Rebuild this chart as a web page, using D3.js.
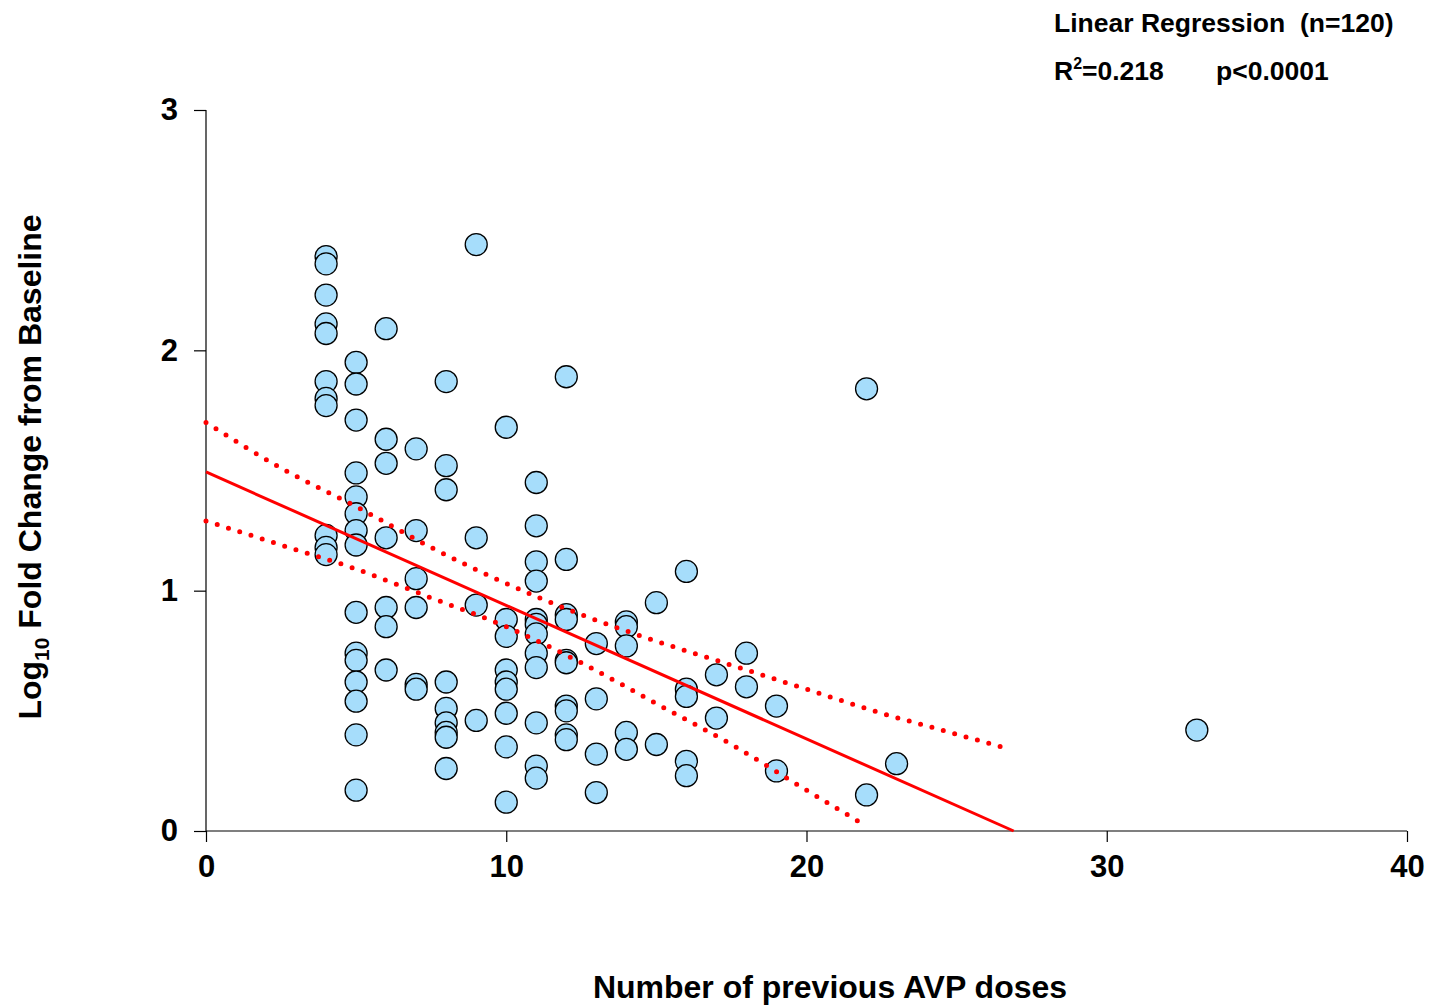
<!DOCTYPE html>
<html>
<head>
<meta charset="utf-8">
<script src="https://cdn.jsdelivr.net/npm/d3@7"></script>
<style>
  body { margin: 0; background: #fff; }
  text { font-family: "Liberation Sans", Arial, sans-serif; font-weight: bold; fill: #000; }
</style>
</head>
<body>
<div class="canvas"></div>
<script>
// doses (x) and log10 fold change (y)
const doses = [
  4,4,4,4,4,4,4,4,4,4,4,
  5,5,5,5,5,5,5,5,5,5,5,5,5,5,5,
  6,6,6,6,6,6,6,
  7,7,7,7,7,7,
  8,8,8,8,8,8,8,8,8,
  9,9,9,9,
  10,10,10,10,10,10,10,10,10,
  11,11,11,11,11,11,11,11,11,11,11,11,
  12,12,12,12,12,12,12,12,12,12,
  13,13,13,13,
  14,14,14,14,14,
  15,15,
  16,16,16,16,16,
  17,17,
  18,18,
  19,19,
  22,22,
  23,
  33
];
const foldChange = [
  2.39,2.36,2.23,2.11,2.07,1.87,1.80,1.77,1.23,1.18,1.15,
  1.95,1.86,1.71,1.49,1.39,1.32,1.25,1.19,0.91,0.74,0.71,0.62,0.54,0.40,0.17,
  2.09,1.63,1.53,1.22,0.93,0.85,0.67,
  1.59,1.25,1.05,0.93,0.61,0.59,
  1.87,1.52,1.42,0.62,0.51,0.45,0.41,0.39,0.26,
  2.44,1.22,0.94,0.46,
  1.68,0.88,0.81,0.67,0.62,0.59,0.49,0.35,0.12,
  1.45,1.27,1.12,1.04,0.88,0.86,0.82,0.74,0.68,0.45,0.27,0.22,
  1.89,1.13,0.90,0.88,0.71,0.70,0.52,0.50,0.40,0.38,
  0.78,0.55,0.32,0.16,
  0.87,0.85,0.77,0.41,0.34,
  0.95,0.36,
  1.08,0.59,0.56,0.29,0.23,
  0.65,0.47,
  0.74,0.60,
  0.52,0.25,
  1.84,0.15,
  0.28,
  0.42
];

// regression fit and 95% confidence band as drawn
const fitX = [0, 26.9];
const fitY = [1.494, 0];
const upperX = [0, 2.5, 5, 7.5, 10, 12.5, 15, 17.5, 20, 22.5, 24.5, 26.5];
const upperY = [1.70, 1.51, 1.35, 1.18, 1.03, 0.90, 0.79, 0.69, 0.59, 0.49, 0.42, 0.35];
const lowerX = [0, 2.5, 5, 7.5, 10, 12.5, 15, 17.5, 20, 22];
const lowerY = [1.29, 1.19, 1.09, 0.97, 0.85, 0.70, 0.53, 0.36, 0.17, 0.02];

const xTicks = [0, 10, 20, 30, 40];
const yTicks = [0, 1, 2, 3];

const width = 1435, height = 1008;
const margin = { left: 206, right: 28, top: 110, bottom: 177 };

const svg = d3.select('.canvas')
  .append('svg')
  .attr('width', width)
  .attr('height', height);

const x = d3.scaleLinear().domain([0, 40]).range([margin.left, width - margin.right]);
const y = d3.scaleLinear().domain([0, 3]).range([height - margin.bottom, margin.top]);

// axes
const xAxis = svg.append('g')
  .attr('transform', `translate(0,${y(0)})`)
  .call(d3.axisBottom(x).tickValues(xTicks).tickSize(11).tickPadding(13).tickFormat(d3.format('d')));
const yAxis = svg.append('g')
  .attr('transform', `translate(${x(0)},0)`)
  .call(d3.axisLeft(y).tickValues(yTicks).tickSize(12).tickPadding(16).tickFormat(d3.format('d')));

[xAxis, yAxis].forEach(a => {
  a.select('.domain').attr('stroke', '#000').attr('stroke-width', 1.2);
  a.selectAll('.tick line').attr('stroke', '#000').attr('stroke-width', 1.2);
  a.selectAll('.tick text')
    .style('font-size', '31px')
    .style('font-family', '"Liberation Sans", Arial, sans-serif')
    .style('font-weight', 'bold');
});
xAxis.select('.domain').attr('d', `M${x(0)},0H${x(40)}`);
yAxis.select('.domain').attr('d', `M0,${y(0)}V${y(3)}`);

// points
const pts = doses.map((d, i) => ({ x: d, y: foldChange[i] }));
svg.append('g')
  .selectAll('circle')
  .data(pts)
  .join('circle')
    .attr('cx', d => x(d.x))
    .attr('cy', d => y(d.y))
    .attr('r', 11)
    .attr('fill', '#a6ddfb')
    .attr('stroke', '#000')
    .attr('stroke-width', 1.3);

// regression line and confidence band
const line = d3.line().x(d => x(d[0])).y(d => y(d[1]));
svg.append('path')
  .attr('d', line(fitX.map((v, i) => [v, fitY[i]])))
  .attr('fill', 'none')
  .attr('stroke', '#ff0000')
  .attr('stroke-width', 3);

const curvy = d3.line().x(d => x(d[0])).y(d => y(d[1])).curve(d3.curveMonotoneX);
[[upperX, upperY], [lowerX, lowerY]].forEach(([bx, by]) => {
  svg.append('path')
    .attr('d', curvy(bx.map((v, i) => [v, by[i]])))
    .attr('fill', 'none')
    .attr('stroke', '#ff0000')
    .attr('stroke-width', 5)
    .attr('stroke-linecap', 'round')
    .attr('stroke-dasharray', '0 11.8');
});

// axis titles
svg.append('text')
  .attr('x', 830)
  .attr('y', 998)
  .attr('text-anchor', 'middle')
  .style('font-size', '32px')
  .text('Number of previous AVP doses');

const yt = svg.append('text')
  .attr('transform', 'translate(41,467) rotate(-90)')
  .attr('text-anchor', 'middle')
  .style('font-size', '32px');
yt.append('tspan').text('Log');
yt.append('tspan').attr('dy', 8).style('font-size', '21px').text('10');
yt.append('tspan').attr('dy', -8).text(' Fold Change from Baseline');

// stats text
svg.append('text')
  .attr('x', 1054).attr('y', 32)
  .style('font-size', '26.5px')
  .attr('xml:space', 'preserve')
  .text('Linear Regression  (n=120)');
const r2 = svg.append('text')
  .attr('x', 1054).attr('y', 80)
  .style('font-size', '26.5px');
r2.append('tspan').text('R');
r2.append('tspan').attr('dy', -11).style('font-size', '16px').text('2');
r2.append('tspan').attr('dy', 11).text('=0.218');
svg.append('text')
  .attr('x', 1216).attr('y', 80)
  .style('font-size', '26.5px')
  .text('p<0.0001');
</script>
</body>
</html>
